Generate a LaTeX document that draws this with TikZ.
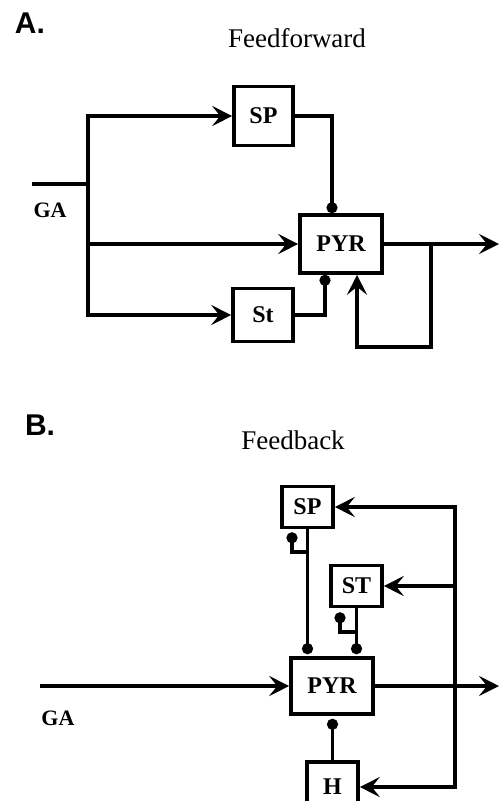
\documentclass[tikz,border=0pt]{standalone}
\usepackage{fontspec}
\setmainfont{Liberation Serif}
\newfontfamily\labsans{Liberation Sans}
\usetikzlibrary{arrows.meta}
\begin{document}
\begin{tikzpicture}[x=1pt,y=-1pt, line width=3.6pt, line join=miter,
  box/.style={draw, line width=3.6pt, inner sep=0pt, font=\fontsize{24}{26}\selectfont\bfseries},
  arr/.style={-{Stealth[length=20pt,width=20pt,inset=8pt]}},
  dot/.style={-{Circle[length=11pt]}},
  panellab/.style={font=\labsans\bfseries\fontsize{30}{32}\selectfont},
  title/.style={font=\fontsize{27}{29}\selectfont},
  galab/.style={font=\fontsize{22}{24}\selectfont\bfseries}]
\useasboundingbox (0,0) rectangle (499,801);

% ---------- Panel A ----------
\node[panellab] (labA) at (30,23) {A.};
\node[title] (titA) at (297,38) {Feedforward};
\node[box, minimum width=59pt, minimum height=59pt] (SPa) at (263.5,116) {SP};
\node[box, minimum width=82pt, minimum height=58pt] (PYRa) at (341,244) {PYR};
\node[box, minimum width=60pt, minimum height=53pt] (Sta) at (263,315) {St};
\node[galab] (GAa) at (50,210) {GA};

\coordinate (ina) at (32,184);
\coordinate (busa) at (88,184);
\coordinate (topa) at (88,116);
\coordinate (mida) at (88,244);
\coordinate (bota) at (88,315);
\draw (ina) -- (busa);
\draw[arr] (busa) -- (topa) -- (SPa.west);
\draw[arr] (busa) -- (bota) -- (Sta.west);
\draw[arr] (mida) -- (PYRa.west);

\coordinate (spA) at (332,116);
\draw[dot] (SPa.east) -- (spA) -- (PYRa.north -| spA);
\coordinate (stA) at (325,315);
\draw[dot] (Sta.east) -- (stA) -- (PYRa.south -| stA);

\coordinate (outA) at (499,244);
\draw[arr] (PYRa.east) -- (outA);
\coordinate (fbA1) at (431,244);
\coordinate (fbA2) at (431,347);
\coordinate (fbA3) at (357,347);
\draw[arr] (fbA1) -- (fbA2) -- (fbA3) -- (PYRa.south -| fbA3);

% ---------- Panel B ----------
\node[panellab] (labB) at (40,425) {B.};
\node[title] (titB) at (293,440) {Feedback};
\node[box, minimum width=51pt, minimum height=41pt] (SPb) at (307.5,507) {SP};
\node[box, minimum width=51pt, minimum height=41pt] (STb) at (356.5,586) {ST};
\node[box, minimum width=82pt, minimum height=56pt] (PYRb) at (332,686) {PYR};
\node[box, minimum width=51pt, minimum height=50pt] (Hb) at (332.5,787) {H};
\node[galab] (GAb) at (58,718) {GA};

\coordinate (inB) at (40,686);
\coordinate (outB) at (499,686);
\draw[arr] (inB) -- (PYRb.west);
\draw[arr] (PYRb.east) -- (outB);

\coordinate (rt1) at (455,507);
\coordinate (rt2) at (455,586);
\coordinate (rt3) at (455,787);
\draw[arr] (rt3) -- (rt1) -- (SPb.east);
\draw[arr] (rt1) -- (rt3) -- (Hb.east);
\draw[arr] (rt2) -- (STb.east);

\draw[dot, shorten >=2pt] (SPb.south) -- (PYRb.north -| SPb.south);
\coordinate (spsB1) at (307.5,552);
\coordinate (spsB2) at (292,552);
\draw[dot, shorten >=3pt] (spsB1) -- (spsB2) -- (SPb.south -| spsB2);

\draw[dot, shorten >=2pt] (STb.south) -- (PYRb.north -| STb.south);
\coordinate (stsB1) at (356.5,632);
\coordinate (stsB2) at (340,632);
\draw[dot, shorten >=4pt] (stsB1) -- (stsB2) -- (STb.south -| stsB2);

\draw[dot, shorten >=3pt] (Hb.north) -- (PYRb.south -| Hb.north);
\end{tikzpicture}
\end{document}
